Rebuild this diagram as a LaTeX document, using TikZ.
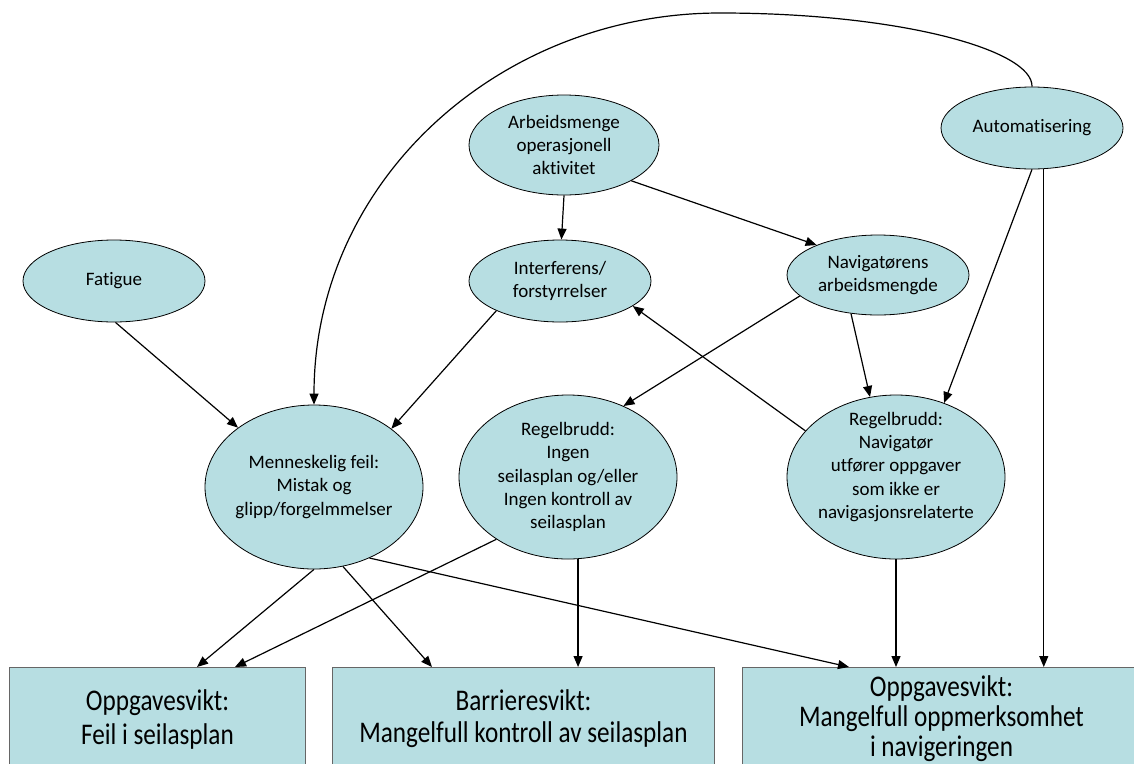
\documentclass[tikz,border=0pt]{standalone}
\usepackage{fontspec}
\setmainfont{Carlito}[Ligatures=NoCommon]
\newfontfamily\boxfont{Carlito}[FakeStretch=0.84,Ligatures=NoCommon]
\usetikzlibrary{arrows.meta,shapes.geometric}
\definecolor{fillc}{RGB}{183,222,226}
\begin{document}
\begin{tikzpicture}[x=1pt,y=-1pt,
  ell/.style={ellipse, draw=black, line width=0.8pt, fill=fillc, inner sep=0pt},
  etext/.style={align=center, font=\fontsize{19}{23.3}\selectfont, inner sep=0pt},
  boxn/.style={rectangle, draw=black!60, line width=1pt, fill=fillc, anchor=north west, inner sep=0pt, align=center, minimum height=103pt},
  arr/.style={line width=1.2pt, -{Triangle[length=11pt,width=9pt]}}]
\useasboundingbox (0,0) rectangle (1134,763);
\fill[white] (0,0) rectangle (1134,763);
% ellipses
\node[ell, minimum width=182pt, minimum height=82pt, label={[etext]center:Fatigue}] (fat) at (114,281) {};
\node[ell, minimum width=190pt, minimum height=100pt, label={[etext]center:Arbeidsmenge\\operasjonell\\aktivitet}] (arb) at (564,145) {};
\node[ell, minimum width=182pt, minimum height=82pt, label={[etext]center:Automatisering}] (auto) at (1032,128) {};
\node[ell, minimum width=182pt, minimum height=82pt, label={[etext]center:Interferens/\\forstyrrelser}] (intf) at (560,281) {};
\node[ell, minimum width=182pt, minimum height=80pt, label={[etext]center:Navigatørens\\arbeidsmengde}] (nav) at (878,275) {};
\node[ell, minimum width=218pt, minimum height=164pt, label={[etext]center:Menneskelig feil:\\Mistak og\\glipp/forgelmmelser}] (menn) at (314,487) {};
\node[ell, minimum width=218pt, minimum height=164pt, label={[etext]center:Regelbrudd:\\Ingen\\seilasplan og/eller\\Ingen kontroll av\\seilasplan}] (regi) at (568,477) {};
\node[ell, minimum width=218pt, minimum height=164pt, label={[etext,yshift=10pt]center:Regelbrudd:\\Navigatør\\utfører oppgaver\\som ikke er\\navigasjonsrelaterte}] (regn) at (896,477) {};
% boxes
\node[boxn, minimum width=296pt, font=\boxfont\fontsize{30}{34}\selectfont] (b1) at (9,667) {Oppgavesvikt:\\Feil i seilasplan};
\node[boxn, minimum width=382pt, font=\boxfont\fontsize{30}{32}\selectfont] (b2) at (332,667) {Barrieresvikt:\\Mangelfull kontroll av seilasplan};
\node[boxn, minimum width=398pt, font=\boxfont\fontsize{30}{30}\selectfont] (b3) at (742,667) {Oppgavesvikt:\\Mangelfull oppmerksomhet\\i navigeringen};
% connectors
\draw[arr] (fat.-88) -- (menn.142.9);
\draw[arr] (auto.north) .. controls (1033,50) and (900,13) .. (720,13) .. controls (500,13) and (314,180) .. (menn.north);
\draw[arr] (arb.-90) -- (intf.88);
\draw[arr] (arb.-28.2) -- (nav.154.1);
\draw[arr] (intf.205.9) -- (menn.37.6);
\draw[arr] (nav.195.6) -- (regi.52.4);
\draw[arr] (regn.153.7) -- (intf.-19.4);
\draw[arr] (nav.235) -- (regn.108.9);
\draw[arr] (auto.-90) -- (regn.57.6);
\draw[arr] (auto.-74.6) -- (auto.-74.6 |- b3.north);
\draw[arr] (regn.south) -- (regn.south |- b3.north);
\draw[arr] (regi.-83) -- (regi.-83 |- b2.north);
\draw[arr] (regi.221.2) -- ([xshift=226pt]b1.north west);
\draw[arr] (menn.south) -- ([xshift=188pt]b1.north west);
\draw[arr] (menn.-70.9) -- ([xshift=100pt]b2.north west);
\draw[arr] (menn.-52.7) -- ([xshift=107pt]b3.north west);
\end{tikzpicture}
\end{document}
